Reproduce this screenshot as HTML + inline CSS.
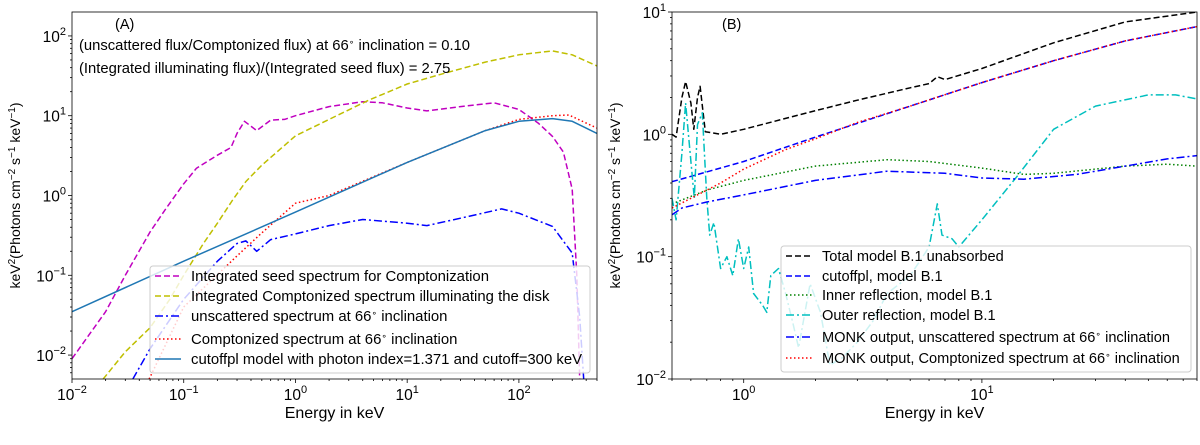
<!DOCTYPE html>
<html><head><meta charset="utf-8"><style>
body{margin:0;background:#fff;width:1200px;height:440px;overflow:hidden}
svg{font-family:"Liberation Sans","DejaVu Sans",sans-serif}
</style></head><body>
<svg id="c" width="1200" height="440" viewBox="0 0 1200 440"></svg>
<script>
// Panel A data (energy keV, value)
const aSeedE=[0.01,0.02,0.03,0.05,0.07,0.1,0.13,0.2,0.265,0.3,0.35,0.45,0.6,0.8,1,2,4,6,10,15,30,60,100,150,200,250,300,330,350];
const aSeedV=[0.009,0.035,0.1,0.35,0.7,1.4,2.2,3.2,4,6,8.5,6.5,8.8,9,10,13,15,14.5,12.5,11.5,13,14.5,12,8,5.5,3.5,1.2,0.1,0.005];
const aIllE=[0.019,0.03,0.05,0.075,0.1,0.15,0.2,0.27,0.36,0.5,1,2,4.5,10,20,50,100,200,300,500];
const aIllV=[0.005,0.011,0.022,0.05,0.1,0.25,0.45,0.85,1.5,2.4,5.6,9,15.6,25,33,47,58,65,58,42];
const aUnsE=[0.035,0.05,0.1,0.2,0.3,0.36,0.45,0.6,1,2,4,10,15,30,70,100,200,300,350,380];
const aUnsV=[0.005,0.012,0.05,0.15,0.25,0.27,0.2,0.28,0.33,0.42,0.5,0.45,0.42,0.52,0.68,0.6,0.41,0.19,0.03,0.005];
const aComE=[0.049,0.1,0.3,0.5,1,2,10,50,100,200,280,500];
const aComV=[0.005,0.04,0.175,0.34,0.8,1.0,2.6,6.5,9,10,10.2,7];
const aCutE=[0.01,0.1,1,10,50,100,200,300,500];
const aCutV=[0.035,0.15,0.62,2.6,6.5,8.5,9.2,8.5,6.0];
// Panel B data
const bTotE=[0.5,0.52,0.55,0.57,0.6,0.617,0.64,0.656,0.69,0.8,1,1.5,2,3,5,6,6.5,7,10,20,40,80];
const bTotV=[1.0,0.95,2.0,2.7,1.8,1.1,2.0,2.47,1.05,1.0,1.1,1.35,1.56,1.9,2.4,2.6,2.96,2.8,3.45,5.6,8.3,10];
const bCutE=[0.5,1,2,5,10,20,40,80];
const bCutV=[0.41,0.6,0.95,1.7,2.65,4.0,5.8,7.6];
const bInE=[0.5,0.7,1,2,4,6,10,15,20,40,60,80];
const bInV=[0.27,0.35,0.42,0.55,0.62,0.6,0.53,0.47,0.48,0.55,0.57,0.55];
const bOutE=[0.5,0.52,0.55,0.57,0.6,0.62,0.64,0.67,0.7,0.72,0.75,0.8,0.85,0.9,0.95,1.0,1.05,1.1,1.2,1.25,1.3,1.4,1.5,1.6,1.7,1.9,2.1,2.3,2.6,3,3.5,4,5,6,6.5,6.8,7.5,8,10,14,20,30,50,65,80];
const bOutV=[0.3,0.2,0.7,1.8,0.6,0.3,1.2,1.5,0.3,0.15,0.19,0.08,0.1,0.07,0.14,0.08,0.12,0.05,0.04,0.035,0.07,0.08,0.05,0.03,0.018,0.06,0.035,0.013,0.015,0.02,0.03,0.05,0.07,0.12,0.27,0.15,0.14,0.12,0.2,0.45,1.1,1.7,2.1,2.1,1.95];
const bUnsE=[0.5,0.55,0.7,1,2,4,7,10,15,25,40,60,80];
const bUnsV=[0.22,0.25,0.28,0.32,0.42,0.5,0.48,0.44,0.43,0.47,0.55,0.63,0.67];
const bComE=[0.5,0.6,0.8,1,1.5,2,3,5,10,20,40,80];
const bComV=[0.25,0.3,0.4,0.52,0.75,0.92,1.25,1.7,2.65,4.0,5.8,7.6];
const aXTicks=[-2,-1,0,1,2], aYTicks=[-2,-1,0,1,2];
const bXTicks=[0,1], bYTicks=[-2,-1,0,1];

const NS="http://www.w3.org/2000/svg", svg=document.getElementById('c');
function mk(t,a,p){const e=document.createElementNS(NS,t);for(const k in a)e.setAttribute(k,a[k]);(p||svg).appendChild(e);return e;}
function panel(P){
  const g=mk('g',{});
  
  
  const sx=e=>P.x0+(Math.log10(e)-P.lx0)/(P.lx1-P.lx0)*(P.x1-P.x0);
  const sy=v=>P.y1-(Math.log10(v)-P.ly0)/(P.ly1-P.ly0)*(P.y1-P.y0);
  const cp='cp'+P.id;
  const d=mk('clipPath',{id:cp},g);mk('rect',{x:P.x0,y:P.y0,width:P.x1-P.x0,height:P.y1-P.y0},d);
  const lg=mk('g',{'clip-path':'url(#'+cp+')'},g);
  P.series.forEach(s=>{
    const pts=s.E.map((e,i)=>sx(e).toFixed(1)+','+sy(s.V[i]).toFixed(1)).join(' ');
    const pl=mk('polyline',{points:pts,fill:'none',stroke:s.c,'stroke-width':1.5,'stroke-dasharray':s.dash||'','stroke-linejoin':'round'},lg);
    
    
  });
  const tg=mk('g',{stroke:'#000','stroke-width':0.8},g);
  for(let k=Math.floor(P.lx0);k<=P.lx1;k++)for(let m=1;m<10;m++){const lv=k+Math.log10(m);if(lv<P.lx0-1e-9||lv>P.lx1+1e-9)continue;const x=sx(Math.pow(10,lv));mk('line',{x1:x,x2:x,y1:P.y1,y2:P.y1+(m==1?4:2)},tg);}
  for(let k=Math.floor(P.ly0);k<=P.ly1;k++)for(let m=1;m<10;m++){const lv=k+Math.log10(m);if(lv<P.ly0-1e-9||lv>P.ly1+1e-9)continue;const y=sy(Math.pow(10,lv));mk('line',{x1:P.x0,x2:P.x0-(m==1?4:2),y1:y,y2:y},tg);}
  P.xt.forEach(k=>{const t=mk('text',{x:sx(Math.pow(10,k)),y:P.y1+21,'font-size':15.5,'text-anchor':'middle'},g);t.innerHTML='10<tspan dy="-7" font-size="11">'+(k<0?'−'+(-k):k)+'</tspan>';});
  P.yt.forEach(k=>{const t=mk('text',{x:P.x0-6,y:sy(Math.pow(10,k))+6,'font-size':15.5,'text-anchor':'end'},g);t.innerHTML='10<tspan dy="-7" font-size="11">'+(k<0?'−'+(-k):k)+'</tspan>';});
  mk('rect',{x:P.x0,y:P.y0,width:P.x1-P.x0,height:P.y1-P.y0,fill:'none',stroke:'#000','stroke-width':0.8},g);
  const xl=mk('text',{x:(P.x0+P.x1)/2,y:418,'font-size':16,'text-anchor':'middle'},g);xl.textContent='Energy in keV';
  
  const yl=mk('text',{x:0,y:0,'font-size':14,'text-anchor':'middle',transform:'translate('+(P.x0-52)+','+((P.y0+P.y1)/2)+') rotate(-90)'},g);
  yl.innerHTML='keV<tspan dy="-5" font-size="10">2</tspan><tspan dy="5">(Photons cm</tspan><tspan dy="-5" font-size="10">−2</tspan><tspan dy="5"> s</tspan><tspan dy="-5" font-size="10">−1</tspan><tspan dy="5"> keV</tspan><tspan dy="-5" font-size="10">−1</tspan><tspan dy="5">)</tspan>';
  
  const L=P.leg;const lgd=mk('g',{},g);
  
  mk('rect',{x:L.x,y:L.y,width:L.w,height:L.h,rx:3,fill:'rgba(255,255,255,0.8)',stroke:'#ccc','stroke-width':1},lgd);
  P.series.forEach((s,i)=>{const y=L.rows[i];
    mk('line',{x1:L.x+5,x2:L.x+31,y1:y,y2:y,stroke:s.c,'stroke-width':1.5,'stroke-dasharray':s.dash||''},lgd);
    const t=mk('text',{x:L.tx,y:y+5,'font-size':L.fs},lgd);t.innerHTML=s.label;
    });
  P.notes.forEach(n=>{const t=mk('text',{x:n[0],y:n[1],'font-size':n[3]||14.8},g);t.innerHTML=n[2];});
}
const deg='<tspan dy="-5" font-size="9">∘</tspan><tspan dy="5"> </tspan>';
panel({id:'A',name:'panel-a',x0:72,x1:597,y0:12,y1:379,lx0:-2,lx1:Math.log10(500),ly0:-2.3,ly1:2.3,xt:aXTicks,yt:aYTicks,
 series:[
  {n:'seed-spectrum',E:aSeedE,V:aSeedV,c:'#c000c0',dash:'6,3',label:'Integrated seed spectrum for Comptonization'},
  {n:'illuminating-spectrum',E:aIllE,V:aIllV,c:'#bfbf00',dash:'6,3',label:'Integrated Comptonized spectrum illuminating the disk'},
  {n:'unscattered-spectrum',E:aUnsE,V:aUnsV,c:'#0000ff',dash:'8,3,2,3',label:'unscattered spectrum at 66'+deg+'inclination'},
  {n:'comptonized-spectrum',E:aComE,V:aComV,c:'#ff0000',dash:'1.5,2.5',label:'Comptonized spectrum at 66'+deg+'inclination'},
  {n:'cutoffpl-model',E:aCutE,V:aCutV,c:'#1f77b4',label:'cutoffpl model with photon index=1.371 and cutoff=300 keV'}],
 leg:{x:150,y:266,w:440,h:107,tx:191,fs:14.9,rows:[276,296,316,339,359]},
 notes:[[115,29,'(A)',14.5],[79,50,'(unscattered flux/Comptonized flux) at 66'+deg+'inclination = 0.10'],[79,73,'(Integrated illuminating flux)/(Integrated seed flux) = 2.75']]});
panel({id:'B',name:'panel-b',x0:672,x1:1197,y0:12,y1:379,lx0:Math.log10(0.5),lx1:Math.log10(80),ly0:-2,ly1:1,xt:bXTicks,yt:bYTicks,
 series:[
  {n:'total-model',E:bTotE,V:bTotV,c:'#000',dash:'6,3',label:'Total model B.1 unabsorbed'},
  {n:'cutoffpl-b1',E:bCutE,V:bCutV,c:'#0000ff',dash:'6,3',label:'cutoffpl, model B.1'},
  {n:'inner-reflection',E:bInE,V:bInV,c:'#008000',dash:'1.5,2.5',label:'Inner reflection, model B.1'},
  {n:'outer-reflection',E:bOutE,V:bOutV,c:'#00bfbf',dash:'8,3,2,3',label:'Outer reflection, model B.1'},
  {n:'monk-unscattered',E:bUnsE,V:bUnsV,c:'#0000ff',dash:'8,3,2,3',label:'MONK output, unscattered spectrum at 66'+deg+'inclination'},
  {n:'monk-comptonized',E:bComE,V:bComV,c:'#ff0000',dash:'1.5,2.5',label:'MONK output, Comptonized spectrum at 66'+deg+'inclination'}],
 leg:{x:781,y:246,w:410,h:126,tx:822,fs:14.6,rows:[256,276,295,315,337,358]},
 notes:[[722,29,'(B)',14.5]]});
</script>
</body></html>
